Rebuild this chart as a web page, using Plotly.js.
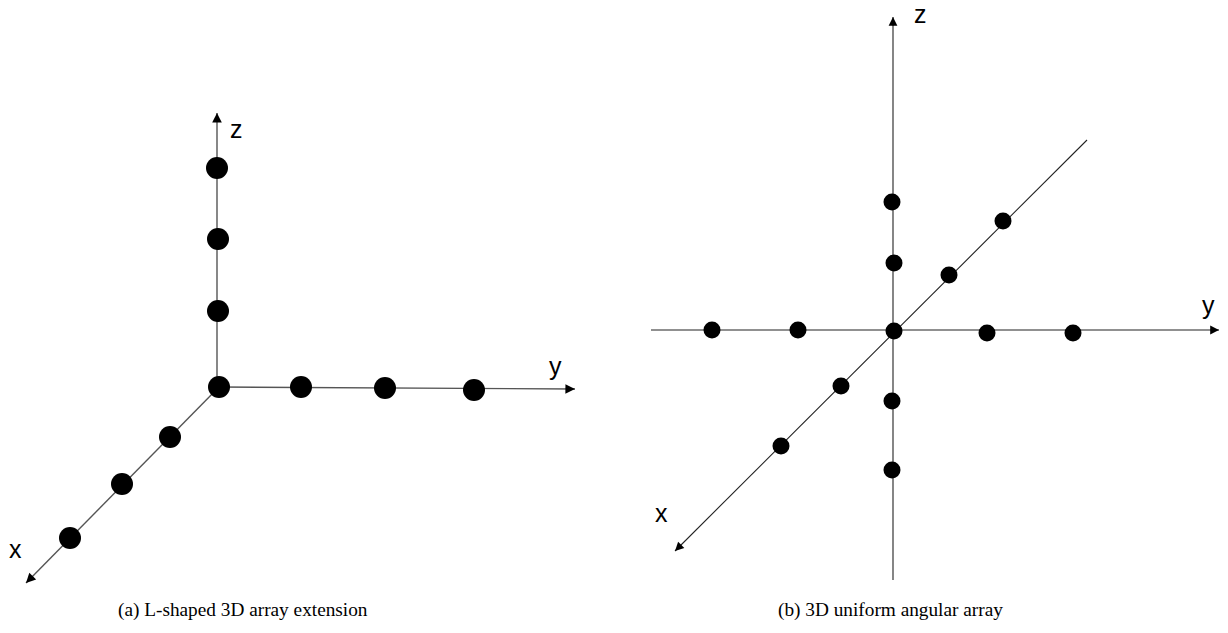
<!DOCTYPE html>
<html>
<head>
<meta charset="utf-8">
<script src="https://cdn.plot.ly/plotly-3.0.1.min.js"></script>
<style>html,body{margin:0;padding:0;background:#fff;}#chart{width:1228px;height:633px;}</style>
</head>
<body>
<div id="chart"></div>
<script>
// Diagram (a): L-shaped 3D array extension (figure coordinates)
const aOrigin = [219, 387];
const aZx = [217, 218, 218];
const aZy = [168, 239, 311];
const aYx = [301, 385, 474];
const aYy = [387, 388, 390];
const aXx = [170, 122, 70];
const aXy = [437, 484, 538];
const aAxisEnds = {z: [217, 113], y: [575, 389], x: [26, 583]};

// Diagram (b): 3D uniform angular array
const bOrigin = [894, 331];
const bZx = [892, 894, 892, 892];
const bZy = [202, 263, 401, 470];
const bYx = [712, 798, 987, 1073];
const bYy = [330, 330, 333, 333];
const bXx = [1003, 949, 841, 781];
const bXy = [221, 275, 386, 446];
const bZaxis = {from: [893, 580], to: [893, 17]};
const bYaxis = {from: [651, 330], to: [1219, 330]};
const bXaxis = {from: [1087, 140], to: [675, 551]};

const axisLabels = ['z', 'y', 'x', 'z', 'y', 'x'];
const captions = ['(a) L-shaped 3D array extension', '(b) 3D uniform angular array'];

const lineA = {color: '#555', width: 1.4};
const lineB = {color: '#222', width: 1.1};

function seg(p, q, line) {
  return {x: [p[0], q[0]], y: [p[1], q[1]], mode: 'lines', line: line, hoverinfo: 'skip', showlegend: false};
}
function dots(xs, ys, size) {
  return {x: xs, y: ys, mode: 'markers', marker: {color: '#000', size: size}, hoverinfo: 'skip', showlegend: false};
}

const traces = [
  seg([217, aOrigin[1]], aAxisEnds.z, lineA),
  seg(aOrigin, aAxisEnds.y, lineA),
  seg(aOrigin, aAxisEnds.x, lineA),
  seg(bZaxis.from, bZaxis.to, lineB),
  seg(bYaxis.from, bYaxis.to, lineB),
  seg(bXaxis.from, bXaxis.to, lineB),
  dots(aZx.concat([aOrigin[0]], aYx, aXx), aZy.concat([aOrigin[1]], aYy, aXy), 22),
  dots(bZx.concat([bOrigin[0]], bYx, bXx), bZy.concat([bOrigin[1]], bYy, bXy), 17)
];

function arrowHead(tip, from, width) {
  const dx = tip[0] - from[0], dy = tip[1] - from[1];
  const L = Math.hypot(dx, dy);
  const t = [tip[0] - dx / L * 10, tip[1] - dy / L * 10];
  return {x: tip[0], y: tip[1], ax: t[0], ay: t[1], xref: 'x', yref: 'y', axref: 'x', ayref: 'y',
          text: '', showarrow: true, arrowhead: 2, arrowsize: 1.6, arrowwidth: width, arrowcolor: '#000'};
}

const labelFont = {family: 'Liberation Sans, Arial, sans-serif', size: 25, color: '#000'};
const labelPos = [[236, 129], [555, 366], [15, 549], [920, 14], [1208, 305], [661, 513]];
const annotations = [
  arrowHead(aAxisEnds.z, [217, aOrigin[1]], 1.2),
  arrowHead(aAxisEnds.y, aOrigin, 1.2),
  arrowHead(aAxisEnds.x, aOrigin, 1.2),
  arrowHead(bZaxis.to, bZaxis.from, 1.1),
  arrowHead(bYaxis.to, bYaxis.from, 1.1),
  arrowHead(bXaxis.to, bXaxis.from, 1.1)
];
axisLabels.forEach((t, i) => {
  annotations.push({x: labelPos[i][0], y: labelPos[i][1], xref: 'x', yref: 'y', text: t,
                    showarrow: false, font: labelFont, xanchor: 'center', yanchor: 'middle'});
});
const capPos = [[243, 610], [890, 610]];
captions.forEach((t, i) => {
  annotations.push({x: capPos[i][0], y: capPos[i][1], xref: 'x', yref: 'y', text: t, showarrow: false,
                    font: {family: 'Liberation Serif', size: 19.3, color: '#000'},
                    xanchor: 'center', yanchor: 'middle'});
});

const layout = {
  width: 1228, height: 633,
  margin: {l: 0, r: 0, t: 0, b: 0},
  paper_bgcolor: '#fff', plot_bgcolor: '#fff',
  xaxis: {range: [0, 1228], visible: false, fixedrange: true},
  yaxis: {range: [633, 0], visible: false, fixedrange: true},
  annotations: annotations,
  showlegend: false
};
Plotly.newPlot('chart', traces, layout, {staticPlot: true});
</script>
</body>
</html>
